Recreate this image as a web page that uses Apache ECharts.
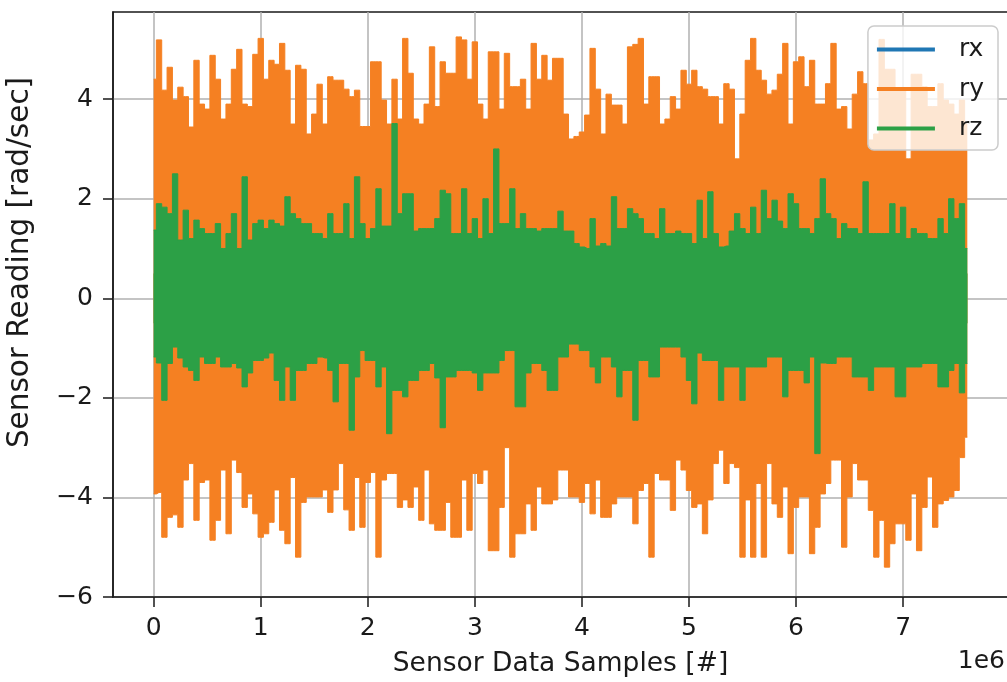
<!DOCTYPE html>
<html><head><meta charset="utf-8">
<script src="https://cdn.jsdelivr.net/npm/echarts@6/dist/echarts.min.js"></script>
<style>html,body{margin:0;padding:0;background:#fff}#c{width:1007px;height:682px}</style>
</head><body><div id="c"></div>
<script>
// x positions are in units of 1e6 samples; each value is the envelope (max / min) of one bin
const binStep = 0.05;
const xTicks = [0, 1, 2, 3, 4, 5, 6, 7];
const yTicks = [-6, -4, -2, 0, 2, 4];
const seriesNames = ['rx', 'ry', 'rz'];

// rx is fully hidden under ry / rz in the picture
const rxValues = [];

const ryUpper = [
4.4,5.19,4.18,4.64,3.98,4.24,4.05,3.44,4.78,3.9,
3.8,4.88,4.4,3.6,3.9,4.6,5.0,3.9,3.85,4.9,
5.22,4.4,4.78,4.7,5.12,4.58,3.5,4.68,4.6,3.3,
3.7,4.3,3.5,4.45,4.38,4.38,4.2,4.05,4.18,3.45,
3.45,4.75,4.75,3.98,3.5,4.4,3.6,5.22,4.52,3.6,
3.5,3.9,5.05,3.85,4.75,4.52,4.52,5.25,5.19,4.4,
5.15,3.9,3.6,4.95,4.95,3.8,4.92,4.25,4.25,4.4,
3.8,5.12,4.4,4.88,4.38,4.82,4.82,3.7,3.2,3.25,
3.34,3.68,5.02,4.2,3.3,4.1,3.88,3.88,3.5,5.05,
5.1,5.22,3.9,4.45,4.45,3.5,3.6,4.05,3.8,4.58,
4.3,4.58,4.25,4.2,4.05,4.05,3.5,4.31,4.2,2.8,
3.7,4.78,5.22,4.58,4.38,4.1,4.18,4.5,5.12,3.5,
4.75,4.85,4.25,4.78,3.9,3.9,4.31,5.12,3.8,3.85,
3.4,4.1,4.55,4.31,3.18,3.3,5.2,4.6,4.6,4.18,
4.18,2.8,4.5,4.5,4.25,3.85,3.85,4.31,3.98,3.9,
3.7,3.98,3.5
];
const ryLower = [
-3.93,-3.9,-4.8,-4.4,-4.35,-4.6,-3.65,-3.32,-4.46,-3.7,
-3.65,-4.86,-4.46,-3.45,-4.73,-3.25,-3.5,-4.2,-3.93,-4.33,
-4.8,-4.73,-4.5,-3.85,-4.66,-4.93,-3.6,-5.2,-4.1,-3.99,
-3.99,-3.99,-3.85,-4.3,-3.85,-3.32,-4.25,-4.66,-3.6,-4.6,
-3.7,-3.5,-5.2,-3.65,-3.52,-3.52,-4.2,-4.05,-4.2,-3.79,
-4.46,-3.45,-4.53,-4.66,-4.66,-4.1,-4.8,-4.8,-3.65,-4.66,
-3.52,-3.72,-3.45,-5.07,-5.07,-4.2,-3.0,-5.2,-4.73,-4.73,
-4.13,-4.66,-3.79,-4.13,-4.13,-4.05,-3.45,-3.45,-3.99,-3.99,
-4.1,-3.72,-4.33,-3.65,-4.4,-4.4,-4.13,-3.99,-3.99,-3.99,
-4.53,-3.86,-3.72,-5.2,-3.52,-3.65,-3.65,-4.26,-3.25,-3.45,
-3.86,-4.2,-4.13,-4.73,-4.05,-3.32,-3.05,-3.72,-3.32,-3.4,
-5.2,-4.05,-5.2,-3.72,-5.2,-3.32,-4.13,-4.4,-3.79,-5.13,
-4.2,-3.99,-3.99,-5.13,-4.6,-3.93,-3.72,-3.25,-3.25,-5.0,
-3.99,-3.32,-3.65,-3.65,-4.26,-5.2,-4.46,-5.4,-4.93,-4.53,
-4.53,-4.86,-3.93,-5.07,-4.2,-3.59,-4.6,-4.13,-4.06,-3.99,
-3.86,-3.2,-2.79
];
const rzUpper = [
1.37,1.9,1.83,1.7,2.5,1.17,1.77,1.2,1.57,1.4,
1.3,1.3,1.5,1.0,1.3,1.7,1.0,2.44,1.17,1.5,
1.57,1.4,1.57,1.5,1.45,2.04,1.7,1.6,1.5,1.5,
1.3,1.3,1.2,1.7,1.3,1.3,1.9,1.2,2.44,1.5,
1.2,1.4,2.2,1.45,1.45,3.51,1.7,2.1,2.1,1.35,
1.4,1.4,1.4,1.6,2.17,2.1,1.3,1.3,2.2,1.3,
1.6,1.2,2.0,1.3,3.0,1.5,1.5,2.2,1.4,1.7,
1.4,1.4,1.35,1.4,1.4,1.4,1.75,1.35,1.35,1.1,
1.03,1.0,1.6,1.05,1.1,1.05,2.04,1.4,1.4,1.8,
1.7,1.6,1.3,1.3,1.2,1.8,1.3,1.3,1.35,1.3,
1.3,1.1,1.97,1.2,2.14,1.3,1.03,1.05,1.35,1.7,
1.4,1.3,1.83,1.3,2.17,1.6,1.97,1.55,1.4,2.1,
1.9,1.4,1.4,1.3,1.6,2.4,1.7,1.6,1.2,1.5,
1.4,1.4,1.3,2.34,1.3,1.3,1.3,1.3,1.9,1.3,
1.83,1.2,1.4,1.3,1.3,1.2,1.2,1.6,1.3,2.0,
1.6,1.9,1.0
];
const rzLower = [
-1.18,-1.3,-2.05,-1.31,-0.98,-1.2,-1.38,-1.45,-1.65,-1.18,
-1.31,-1.31,-1.18,-1.38,-1.38,-1.31,-1.4,-1.78,-1.5,-1.25,
-1.25,-1.2,-1.1,-1.65,-2.05,-1.38,-2.05,-1.45,-1.45,-1.31,
-1.31,-1.18,-1.2,-1.45,-2.08,-1.31,-1.31,-2.65,-1.58,-1.05,
-1.25,-1.25,-1.78,-1.38,-2.72,-1.85,-1.85,-1.98,-1.65,-1.65,
-1.45,-1.45,-1.31,-1.6,-2.6,-1.58,-1.58,-1.45,-1.45,-1.45,
-1.5,-1.85,-1.5,-1.5,-1.5,-1.25,-1.05,-1.05,-2.18,-2.18,
-1.5,-1.31,-1.31,-1.45,-1.85,-1.85,-1.18,-1.18,-0.92,-0.92,
-1.05,-1.05,-1.38,-1.7,-1.18,-1.18,-1.38,-1.98,-1.45,-1.45,
-2.45,-1.25,-1.25,-1.58,-1.58,-0.98,-0.98,-0.98,-0.98,-1.18,
-1.65,-2.12,-1.1,-1.25,-1.25,-1.25,-2.05,-1.38,-1.38,-1.38,
-2.05,-1.38,-1.38,-1.38,-1.38,-1.18,-1.18,-1.18,-1.98,-1.45,
-1.45,-1.45,-1.7,-1.18,-3.12,-1.3,-1.31,-1.31,-1.18,-1.18,
-1.18,-1.58,-1.58,-1.58,-1.85,-1.38,-1.38,-1.38,-1.38,-1.98,
-1.98,-1.38,-1.38,-1.38,-1.31,-1.31,-1.31,-1.78,-1.78,-1.45,
-1.31,-1.9,-1.31
];

const colors = { rx: '#1f77b4', ry: '#f58022', rz: '#2ca046' };
const FONT = 'DejaVu Sans';

function pairs(arr) { return arr.map((v, i) => [+(i * binStep).toFixed(2), v]); }
function minusFmt(v) { return v < 0 ? '\u2212' + Math.abs(v) : String(v); }

// upper envelopes fill down past zero, lower ones fill up past zero, so the two halves overlap (no seam)
function envSeries(name, arr, origin) {
  const c = colors[name];
  return {
    name: name, type: 'line', data: pairs(arr), step: 'middle', symbol: 'none',
    lineStyle: { color: c, width: 1 }, itemStyle: { color: c },
    areaStyle: { color: c, opacity: 1, origin: origin }, silent: true
  };
}

const chart = echarts.init(document.getElementById('c'), null, { renderer: 'canvas' });
chart.setOption({
  animation: false,
  backgroundColor: '#fff',
  grid: {
    left: 113, top: 12, right: -1, bottom: 85, containLabel: false, outerBoundsMode: 'none',
    show: true, borderColor: '#1a1a1a', borderWidth: 1.5
  },
  legend: {
    data: seriesNames, orient: 'vertical', right: 9, top: 26,
    padding: [11, 14, 9, 9], itemGap: 14.5, itemWidth: 58, itemHeight: 4, icon: 'rect',
    backgroundColor: 'rgba(255,255,255,0.8)', borderColor: '#cccccc', borderWidth: 1.5, borderRadius: 6,
    textStyle: { fontFamily: FONT, fontSize: 25, color: '#1a1a1a', padding: [0, 0, 0, 19] },
    selectedMode: false
  },
  xAxis: {
    type: 'value', min: -0.38, max: 7.98,
    name: 'Sensor Data Samples [#]', nameLocation: 'middle', nameGap: 54,
    nameTextStyle: { fontFamily: FONT, fontSize: 26.5, color: '#1a1a1a' },
    axisLine: { show: true, onZero: false, lineStyle: { color: '#1a1a1a', width: 1.5 } },
    axisTick: { show: true, length: 10, customValues: xTicks, lineStyle: { color: '#1a1a1a', width: 1.5 } },
    axisLabel: { customValues: xTicks, margin: 19, fontFamily: FONT, fontSize: 25, color: '#1a1a1a' },
    splitLine: { show: true, lineStyle: { color: '#b0b0b0', width: 1.5 } }
  },
  yAxis: {
    type: 'value', min: -6, max: 5.75,
    name: 'Sensor Reading [rad/sec]', nameLocation: 'middle', nameGap: 78,
    nameTextStyle: { fontFamily: FONT, fontSize: 29.5, color: '#1a1a1a', padding: [0, 0, 0, 84] },
    axisLine: { show: true, onZero: false, lineStyle: { color: '#1a1a1a', width: 1.5 } },
    axisTick: { show: true, length: 10, customValues: yTicks, lineStyle: { color: '#1a1a1a', width: 1.5 } },
    axisLabel: { customValues: yTicks, margin: 20, fontFamily: FONT, fontSize: 25, color: '#1a1a1a', formatter: minusFmt },
    splitLine: { show: true, lineStyle: { color: '#b0b0b0', width: 1.5 } }
  },
  graphic: [{
    type: 'text', right: 2, top: 649,
    style: { text: '1e6', font: '25px "DejaVu Sans"', fill: '#1a1a1a' }
  }],
  series: [
    { name: 'rx', type: 'line', data: rxValues, symbol: 'none', lineStyle: { color: colors.rx }, itemStyle: { color: colors.rx } },
    envSeries('ry', ryUpper, -0.5),
    envSeries('ry', ryLower, 0.5),
    envSeries('rz', rzUpper, -0.5),
    envSeries('rz', rzLower, 0.5)
  ]
});
</script></body></html>
